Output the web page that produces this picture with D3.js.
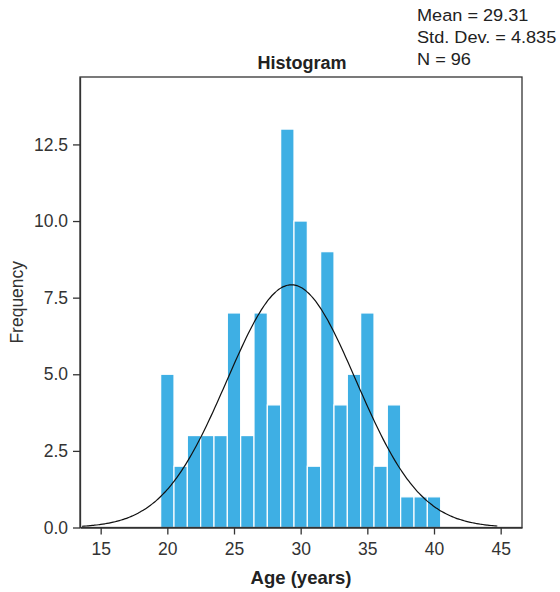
<!DOCTYPE html>
<html><head><meta charset="utf-8">
<script src="https://cdn.jsdelivr.net/npm/d3@7"></script>
<style>
body{margin:0;background:#fff;}
text{font-family:"Liberation Sans",Arial,sans-serif;}
</style></head>
<body><svg id="c" width="560" height="592"></svg>
<script>
const binCenters = [20,21,22,23,24,25,26,27,28,29,30,31,32,33,34,35,36,37,38,39,40];
const frequencies = [5,2,3,3,3,7,3,7,4,13,10,2,9,4,5,7,2,4,1,1,1];
const xTicks = [15,20,25,30,35,40,45];
const yTicks = [0,2.5,5,7.5,10,12.5];
const stats = ["Mean = 29.31","Std. Dev. = 4.835","N = 96"];
const mean = 29.31, sd = 4.835, n = 96, binWidth = 1;
const curveRange = [13.6, 44.75];

const svg = d3.select("#c");
const L=80, R=522, T=77, B=527.5;
const x = d3.scaleLinear().domain([13.45,46.6]).range([L,R]);
const y = d3.scaleLinear().domain([0,14.7]).range([B,T]);
const axisColor="#333";

svg.append("g").selectAll("rect").data(binCenters).join("rect")
  .attr("x",(d)=>x(d-binWidth/2))
  .attr("width",(d)=>x(d+binWidth/2)-x(d-binWidth/2))
  .attr("y",(d,i)=>y(frequencies[i]))
  .attr("height",(d,i)=>y(0)-y(frequencies[i]))
  .attr("fill","#3eafe4").attr("stroke","#fff").attr("stroke-width",1.2);

const pts = d3.range(0,201).map(i=>{
  const xv = curveRange[0]+(curveRange[1]-curveRange[0])*i/200;
  const yv = n*binWidth/(sd*Math.sqrt(2*Math.PI))*Math.exp(-0.5*((xv-mean)/sd)**2);
  return [xv,yv];
});
svg.append("path").datum(pts)
  .attr("d",d3.line().x(d=>x(d[0])).y(d=>y(d[1])).curve(d3.curveBasis))
  .attr("fill","none").attr("stroke","#111").attr("stroke-width",1.2);

svg.append("rect").attr("x",L).attr("y",T).attr("width",R-L).attr("height",B-T)
  .attr("fill","none").attr("stroke",axisColor).attr("stroke-width",1.3);

const xa = svg.append("g").attr("transform",`translate(0,${B})`)
  .call(d3.axisBottom(x).tickValues(xTicks).tickSize(7).tickSizeOuter(0).tickPadding(8).tickFormat(d3.format("d")));
const ya = svg.append("g").attr("transform",`translate(${L},0)`)
  .call(d3.axisLeft(y).tickValues(yTicks).tickSize(7).tickSizeOuter(0).tickPadding(5).tickFormat(d3.format(".1f")));
[xa,ya].forEach(a=>{
  a.select(".domain").attr("stroke",axisColor).attr("stroke-width",1.3);
  a.selectAll(".tick line").attr("stroke",axisColor).attr("stroke-width",1.3);
  a.selectAll(".tick text").attr("fill","#333").style("font-size","17.5px")
   .style("font-family",'"Liberation Sans",Arial,sans-serif');
});

svg.append("text").attr("x",(L+R)/2+1).attr("y",69).attr("text-anchor","middle")
  .style("font-size","18px").style("font-weight","bold").attr("fill","#222").text("Histogram");
svg.append("text").attr("x",(L+R)/2).attr("y",584).attr("text-anchor","middle")
  .style("font-size","18.5px").style("font-weight","bold").attr("fill","#222").text("Age (years)");
svg.append("text").attr("transform",`translate(23,${(T+B)/2}) rotate(-90)`).attr("text-anchor","middle")
  .style("font-size","17.5px").attr("fill","#333").text("Frequency");

svg.append("g").attr("transform","translate(417,0) scale(1.1,1)")
  .selectAll("text").data(stats).join("text")
  .attr("x",0).attr("y",(d,i)=>21+i*22)
  .style("font-size","16.5px").attr("fill","#222").text(d=>d);
</script></body></html>
